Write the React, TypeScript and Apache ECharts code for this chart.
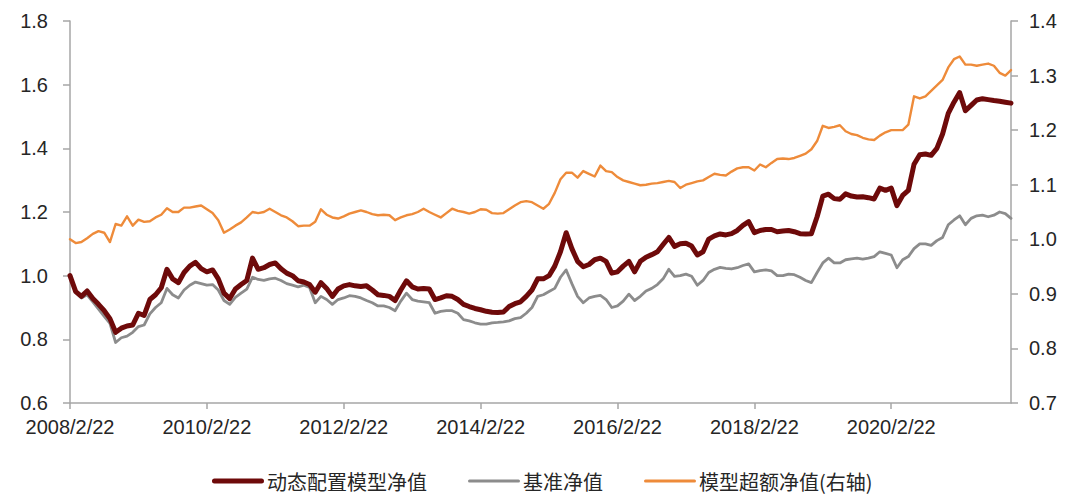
import React, { useEffect, useRef } from "react";
import * as echarts from "echarts";

// Monthly observation dates, 2008/2/22 .. 2021/11/22
const dates: string[] = [];
for (let i = 0; i < 166; i++) {
  const y = 2008 + Math.floor((1 + i) / 12);
  const m = ((1 + i) % 12) + 1;
  dates.push(`${y}/${m}/22`);
}

const seriesNames = ["动态配置模型净值", "基准净值", "模型超额净值(右轴)"];

const modelNav = [
  1.00, 0.95, 0.935, 0.952, 0.928, 0.91, 0.89, 0.865, 0.822, 0.835, 0.842, 0.845,
  0.882, 0.875, 0.925, 0.94, 0.962, 1.02, 0.99, 0.978, 1.01, 1.03, 1.042, 1.022,
  1.012, 1.018, 0.99, 0.945, 0.928, 0.958, 0.972, 0.985, 1.055, 1.02, 1.025, 1.035,
  1.04, 1.022, 1.008, 1.0, 0.984, 0.98, 0.972, 0.948, 0.978, 0.96, 0.935, 0.958,
  0.968, 0.972, 0.968, 0.966, 0.968, 0.955, 0.94, 0.938, 0.935, 0.922, 0.955, 0.984,
  0.965, 0.958, 0.96, 0.958, 0.925, 0.93, 0.937, 0.935, 0.925, 0.91, 0.903, 0.897,
  0.893, 0.888, 0.885, 0.884, 0.886, 0.903, 0.912, 0.918, 0.935, 0.955, 0.99, 0.99,
  1.0, 1.03, 1.075, 1.135, 1.085, 1.045, 1.028, 1.035, 1.05, 1.055, 1.045, 1.008,
  1.012, 1.03, 1.045, 1.012, 1.045, 1.058, 1.066, 1.075, 1.098, 1.12, 1.092, 1.1,
  1.102, 1.093, 1.065, 1.075, 1.115, 1.125, 1.131, 1.128, 1.132, 1.142, 1.158, 1.17,
  1.135, 1.142, 1.145, 1.145, 1.138, 1.14, 1.142, 1.138, 1.132, 1.131, 1.132, 1.185,
  1.25, 1.256, 1.242, 1.24, 1.257, 1.25, 1.247, 1.248, 1.245, 1.241, 1.275, 1.268,
  1.275, 1.22, 1.252, 1.268, 1.35, 1.38, 1.382, 1.378, 1.4, 1.445, 1.51, 1.545,
  1.575, 1.518, 1.535, 1.552, 1.556, 1.553, 1.55, 1.548, 1.545, 1.542,
];

const benchNav = [
  1.0, 0.948, 0.93, 0.94, 0.918, 0.895, 0.872, 0.85, 0.79, 0.805, 0.81, 0.822,
  0.84, 0.845, 0.88, 0.9, 0.915, 0.96, 0.94, 0.93, 0.955, 0.97, 0.98, 0.975,
  0.97, 0.972, 0.955, 0.922, 0.91, 0.932, 0.945, 0.958, 0.995, 0.988, 0.985, 0.99,
  0.992, 0.985, 0.975, 0.97, 0.965, 0.97, 0.963, 0.915, 0.935, 0.925, 0.91, 0.925,
  0.93, 0.937, 0.935, 0.93, 0.922, 0.915, 0.905, 0.905, 0.9, 0.89, 0.92, 0.945,
  0.925, 0.92, 0.918, 0.915, 0.882, 0.888, 0.89, 0.89, 0.882, 0.862, 0.858, 0.852,
  0.848, 0.848, 0.852, 0.853, 0.855, 0.858, 0.865, 0.868, 0.882, 0.9, 0.935, 0.94,
  0.95, 0.96, 0.995, 1.018, 0.975, 0.935, 0.915, 0.93, 0.935, 0.938, 0.925, 0.9,
  0.905, 0.92, 0.942, 0.922, 0.935, 0.952, 0.96, 0.972, 0.99, 1.02, 0.998, 1.0,
  1.005, 0.998, 0.97, 0.985, 1.01, 1.02, 1.026, 1.023, 1.021, 1.025, 1.032, 1.037,
  1.012, 1.016, 1.018, 1.015, 1.0, 1.0, 1.005, 1.003, 0.995, 0.985, 0.978, 1.01,
  1.04, 1.055, 1.04, 1.04, 1.05, 1.053, 1.055, 1.052, 1.055, 1.06, 1.075, 1.07,
  1.065, 1.025, 1.05, 1.06, 1.085, 1.1, 1.1, 1.095, 1.11, 1.12, 1.16, 1.175,
  1.188, 1.16, 1.18, 1.188, 1.19, 1.185, 1.19, 1.2, 1.195, 1.18,
];

const excessNav = [
  1.0, 0.993, 0.995, 1.002, 1.01, 1.015, 1.012, 0.995, 1.028, 1.025, 1.042, 1.025,
  1.036, 1.032, 1.033, 1.04, 1.045, 1.057, 1.05, 1.05, 1.058, 1.058, 1.06, 1.062,
  1.055, 1.048, 1.035, 1.012, 1.018, 1.025, 1.031, 1.04, 1.05, 1.048, 1.05, 1.056,
  1.05, 1.044, 1.04, 1.033, 1.024, 1.025, 1.025, 1.032, 1.055, 1.045, 1.04, 1.038,
  1.042, 1.047, 1.05, 1.053, 1.05, 1.046, 1.044, 1.045, 1.044, 1.035, 1.04, 1.044,
  1.046, 1.05, 1.056, 1.05, 1.045, 1.04, 1.048, 1.056, 1.052, 1.05, 1.047, 1.05,
  1.055, 1.054, 1.048, 1.047, 1.048, 1.055, 1.062, 1.068, 1.07, 1.068, 1.062, 1.056,
  1.065, 1.085, 1.11, 1.122, 1.122, 1.113, 1.125, 1.12, 1.115, 1.135, 1.125, 1.123,
  1.114, 1.108, 1.105, 1.102, 1.099, 1.1, 1.102, 1.103, 1.105, 1.107, 1.105, 1.094,
  1.1, 1.103, 1.106, 1.108, 1.114, 1.12, 1.118, 1.117, 1.124, 1.13, 1.132, 1.132,
  1.126, 1.137, 1.132, 1.14, 1.147, 1.148, 1.147, 1.149, 1.153, 1.157, 1.165, 1.18,
  1.208, 1.204, 1.206, 1.209, 1.198, 1.193, 1.191, 1.186, 1.183, 1.182, 1.19, 1.196,
  1.2, 1.2, 1.2, 1.21, 1.262, 1.258, 1.262, 1.272, 1.282, 1.292, 1.315, 1.33,
  1.335, 1.32, 1.32, 1.318, 1.32, 1.322, 1.318, 1.305, 1.3, 1.31,
];

const FONT = "'Liberation Sans', Arial, 'Noto Sans CJK SC', sans-serif";
const AXIS_GRAY = "#a6a6a6";
const COLORS = ["#6e0a0a", "#8c8c8c", "#ee8b3a"];
const THICK_ICON = "path://M2.5,0 L49.5,0 A2.5,2.5 0 0 1 49.5,5 L2.5,5 A2.5,2.5 0 0 1 2.5,0 Z";
const THIN_ICON = "path://M1.5,0 L50.5,0 A1.5,1.5 0 0 1 50.5,3 L1.5,3 A1.5,1.5 0 0 1 1.5,0 Z";

export default function App() {
  const ref = useRef<HTMLDivElement>(null);
  useEffect(() => {
    document.body.style.margin = "0";
    const chart = echarts.init(ref.current!, undefined, { renderer: "svg" });
    chart.setOption({
      animation: false,
      backgroundColor: "#ffffff",
      textStyle: { fontFamily: FONT },
      grid: { left: 70, right: 69, top: 21, bottom: 91, containLabel: false },
      legend: {
        data: [
          { name: seriesNames[0], icon: THICK_ICON, itemStyle: { color: COLORS[0] } },
          { name: seriesNames[1], icon: THIN_ICON, itemStyle: { color: COLORS[1] } },
          { name: seriesNames[2], icon: THIN_ICON, itemStyle: { color: COLORS[2] } },
        ],
        left: 207,
        top: 466,
        itemWidth: 52,
        itemHeight: 14,
        itemGap: 41,
        textStyle: { fontSize: 20, color: "#262626", fontFamily: "'Noto Sans CJK SC', sans-serif", padding: [0, 0, 0, -2] },
      },
      xAxis: {
        type: "category",
        data: dates,
        boundaryGap: false,
        axisLine: { show: true, lineStyle: { color: AXIS_GRAY, width: 1.5 } },
        axisTick: { show: true, interval: 23, length: 6, lineStyle: { color: AXIS_GRAY, width: 1.5 } },
        axisLabel: { interval: 23, fontSize: 20, color: "#262626", margin: 14, fontFamily: FONT },
        splitLine: { show: false },
      },
      yAxis: [
        {
          type: "value",
          min: 0.6,
          max: 1.8,
          interval: 0.2,
          position: "left",
          axisLine: { show: true, lineStyle: { color: AXIS_GRAY, width: 1.5 } },
          axisTick: { show: true, length: 7, lineStyle: { color: AXIS_GRAY, width: 1.5 } },
          axisLabel: { fontSize: 20, color: "#262626", margin: 22, formatter: (v: number) => v.toFixed(1), fontFamily: FONT },
          splitLine: { show: false },
        },
        {
          type: "value",
          min: 0.7,
          max: 1.4,
          interval: 0.1,
          position: "right",
          axisLine: { show: true, lineStyle: { color: AXIS_GRAY, width: 1.5 } },
          axisTick: { show: true, length: 7, lineStyle: { color: AXIS_GRAY, width: 1.5 } },
          axisLabel: { fontSize: 20, color: "#262626", margin: 18, formatter: (v: number) => v.toFixed(1), fontFamily: FONT },
          splitLine: { show: false },
        },
      ],
      series: [
        {
          name: seriesNames[0],
          type: "line",
          data: modelNav,
          yAxisIndex: 0,
          symbol: "none",
          z: 4,
          lineStyle: { color: COLORS[0], width: 5, cap: "round", join: "round" },
          itemStyle: { color: COLORS[0] },
        },
        {
          name: seriesNames[1],
          type: "line",
          data: benchNav,
          yAxisIndex: 0,
          symbol: "none",
          z: 3,
          lineStyle: { color: COLORS[1], width: 2.8, cap: "round", join: "round" },
          itemStyle: { color: COLORS[1] },
        },
        {
          name: seriesNames[2],
          type: "line",
          data: excessNav,
          yAxisIndex: 1,
          symbol: "none",
          z: 2,
          lineStyle: { color: COLORS[2], width: 2.4, cap: "round", join: "round" },
          itemStyle: { color: COLORS[2] },
        },
      ],
    });
    return () => chart.dispose();
  }, []);
  return <div ref={ref} style={{ position: "fixed", left: 0, top: 0, width: 1080, height: 494 }} />;
}
